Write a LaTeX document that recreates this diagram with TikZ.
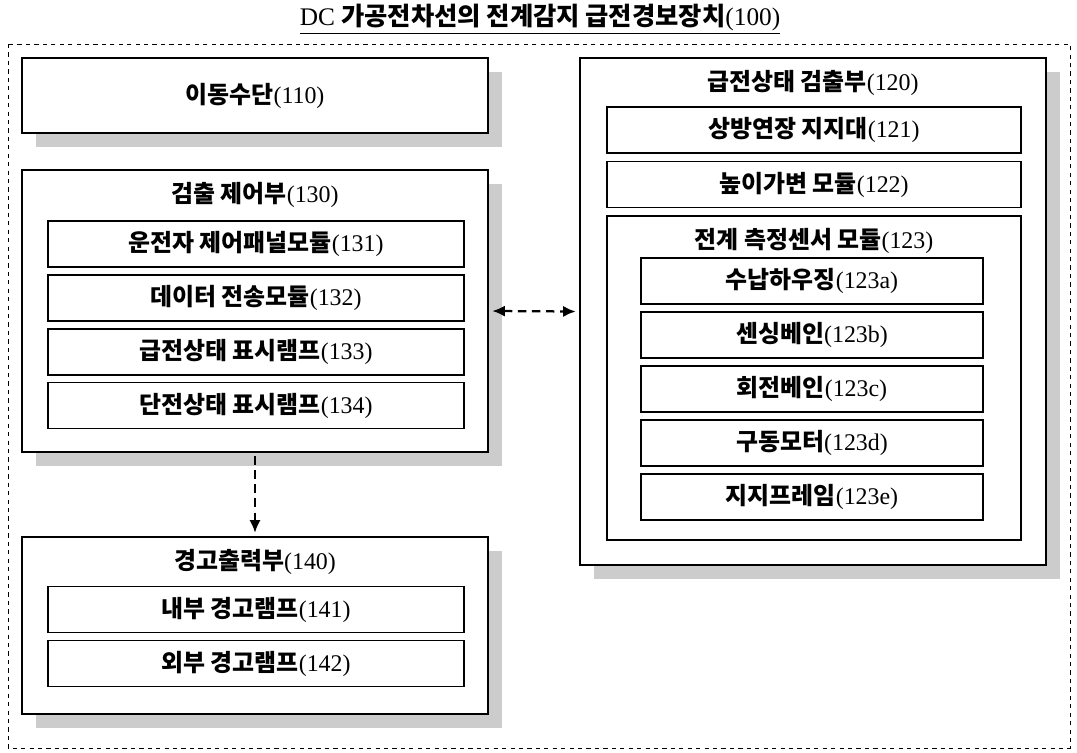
\documentclass[tikz,border=0pt]{standalone}
\usepackage{fontspec}
\setmainfont{Liberation Serif}
\newfontfamily\cjk{Noto Sans CJK KR}
\usetikzlibrary{arrows.meta,shadows}
\newcommand{\kr}[2]{{\cjk\bfseries #1}(#2)}
\tikzset{outer/.style={draw, line width=2pt, fill=white, minimum width=11.65cm,
  drop shadow={shadow xshift=0.35cm, shadow yshift=-0.35cm, opacity=1, fill=gray!40}}}
\tikzset{inner/.style={draw, line width=1pt, fill=white, minimum height=1.15cm}}
\tikzset{title/.style={font=\fontsize{17}{20}\selectfont}}
\tikzset{link/.style={dash pattern=on 6pt off 4pt, line width=1.6pt, -{Latex[length=9pt,width=8pt]}}}
\begin{document}
\begin{tikzpicture}[x=0.025cm, y=-0.025cm, every node/.style={font=\fontsize{17}{20}\selectfont}]
\useasboundingbox (0,0) rectangle (1077,752);
\node[font=\fontsize{18}{21}\selectfont] (main) at (540,19) {\underline{DC \kr{가공전차선의 전계감지 급전경보장치}{100}}};
\draw[dashed, line width=0.6pt] (8,44) rectangle (1070,748);
% left column
\node[outer, minimum height=1.875cm] (move) at (255,95.5) {\kr{이동수단}{110}};
\node[outer, minimum height=7.05cm] (ctrl) at (255,311) {};
\node[title] at (255,195) {\kr{검출 제어부}{130}};
\node[inner, minimum width=10.4cm] (c131) at (256,244) {\kr{운전자 제어패널모듈}{131}};
\node[inner, minimum width=10.4cm] (c132) at (256,298) {\kr{데이터 전송모듈}{132}};
\node[inner, minimum width=10.4cm] (c133) at (256,352) {\kr{급전상태 표시램프}{133}};
\node[inner, minimum width=10.4cm] (c134) at (256,405.5) {\kr{단전상태 표시램프}{134}};
\node[outer, minimum height=4.425cm] (warn) at (255,625.5) {};
\node[title] at (255,562) {\kr{경고출력부}{140}};
\node[inner, minimum width=10.4cm] (w141) at (256,609.5) {\kr{내부 경고램프}{141}};
\node[inner, minimum width=10.4cm] (w142) at (256,663.5) {\kr{외부 경고램프}{142}};
% right column
\node[outer, minimum height=12.675cm] (feed) at (813,311.5) {};
\node[title] at (813,83) {\kr{급전상태 검출부}{120}};
\node[inner, minimum width=10.35cm] (f121) at (814,130) {\kr{상방연장 지지대}{121}};
\node[inner, minimum width=10.35cm] (f122) at (814,184.5) {\kr{높이가변 모듈}{122}};
\node[draw, line width=1pt, minimum width=10.35cm, minimum height=8.1cm] (sens) at (814,378) {};
\node[title] at (814,241) {\kr{전계 측정센서 모듈}{123}};
\node[inner, minimum width=8.55cm] (s123a) at (812,281) {\kr{수납하우징}{123a}};
\node[inner, minimum width=8.55cm] (s123b) at (812,335) {\kr{센싱베인}{123b}};
\node[inner, minimum width=8.55cm] (s123c) at (812,389) {\kr{회전베인}{123c}};
\node[inner, minimum width=8.55cm] (s123d) at (812,443) {\kr{구동모터}{123d}};
\node[inner, minimum width=8.55cm] (s123e) at (812,497) {\kr{지지프레임}{123e}};
% links
\draw[link, {Latex[length=9pt,width=8pt]}-{Latex[length=9pt,width=8pt]}] ([xshift=2pt]ctrl.east) -- ([xshift=-2pt]feed.west);
\draw[link] ([yshift=-2pt]ctrl.south) -- ([yshift=2pt]warn.north);
\end{tikzpicture}
\end{document}
